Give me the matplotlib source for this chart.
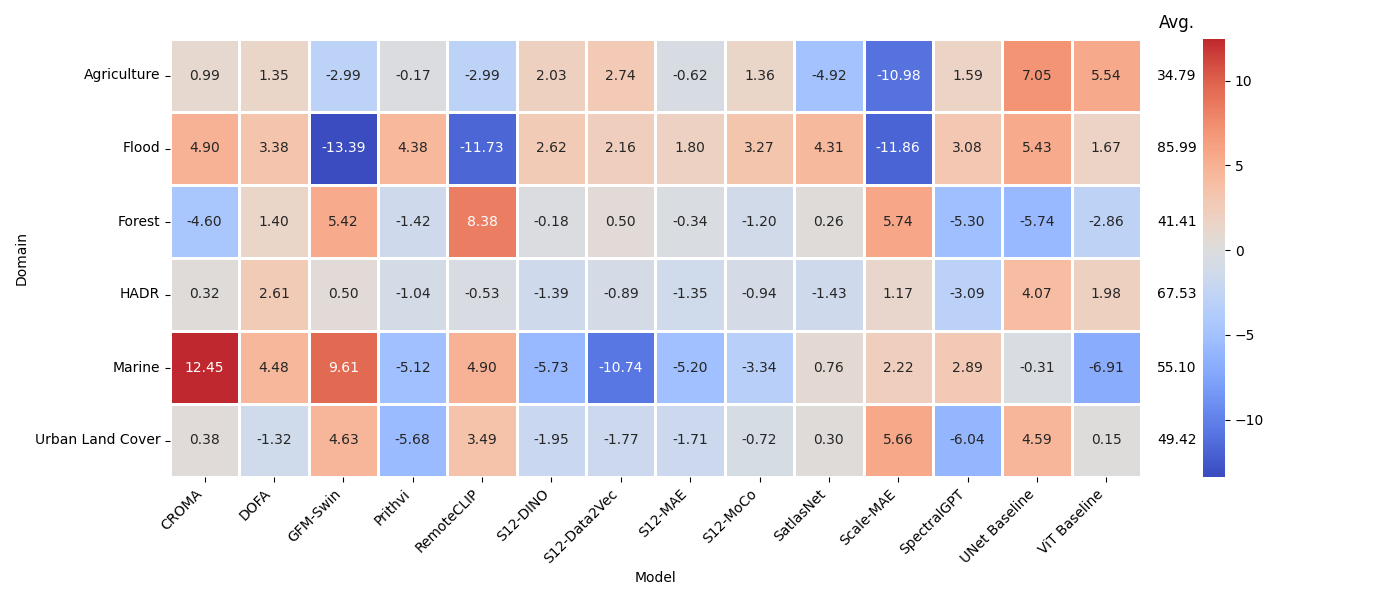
import matplotlib
matplotlib.use("Agg")
import matplotlib.pyplot as plt
import numpy as np
import seaborn as sns

models = ["CROMA", "DOFA", "GFM-Swin", "Prithvi", "RemoteCLIP", "S12-DINO", "S12-Data2Vec",
          "S12-MAE", "S12-MoCo", "SatlasNet", "Scale-MAE", "SpectralGPT", "UNet Baseline", "ViT Baseline"]
domains = ["Agriculture", "Flood", "Forest", "HADR", "Marine", "Urban Land Cover"]

agriculture = [0.99, 1.35, -2.99, -0.17, -2.99, 2.03, 2.74, -0.62, 1.36, -4.92, -10.98, 1.59, 7.05, 5.54]
flood = [4.90, 3.38, -13.39, 4.38, -11.73, 2.62, 2.16, 1.80, 3.27, 4.31, -11.86, 3.08, 5.43, 1.67]
forest = [-4.60, 1.40, 5.42, -1.42, 8.38, -0.18, 0.50, -0.34, -1.20, 0.26, 5.74, -5.30, -5.74, -2.86]
hadr = [0.32, 2.61, 0.50, -1.04, -0.53, -1.39, -0.89, -1.35, -0.94, -1.43, 1.17, -3.09, 4.07, 1.98]
marine = [12.45, 4.48, 9.61, -5.12, 4.90, -5.73, -10.74, -5.20, -3.34, 0.76, 2.22, 2.89, -0.31, -6.91]
urban = [0.38, -1.32, 4.63, -5.68, 3.49, -1.95, -1.77, -1.71, -0.72, 0.30, 5.66, -6.04, 4.59, 0.15]
averages = [34.79, 85.99, 41.41, 67.53, 55.10, 49.42]

data = np.array([agriculture, flood, forest, hadr, marine, urban])

fig = plt.figure(figsize=(14, 6), dpi=100)
ax = fig.add_axes([0.1214, 0.205, 0.6936, 0.730])
cax = fig.add_axes([0.859, 0.205, 0.016, 0.730])

sns.heatmap(data, ax=ax, cbar_ax=cax, cmap="coolwarm", center=0, annot=True, fmt=".2f",
            linewidths=1, linecolor="white", xticklabels=models, yticklabels=domains,
            annot_kws={"fontsize": 10})
ax.set_xlabel("Model")
ax.set_ylabel("Domain")
plt.setp(ax.get_xticklabels(), rotation=45, ha="right")
plt.setp(ax.get_yticklabels(), rotation=0)

for i, v in enumerate(averages):
    ax.text(len(models) + 0.52, i + 0.5, f"{v:.2f}", ha="center", va="center", fontsize=10)
ax.text(len(models) + 0.52, -0.1, "Avg.", ha="center", va="bottom", fontsize=12)

fig.savefig("out.png", dpi=100)
